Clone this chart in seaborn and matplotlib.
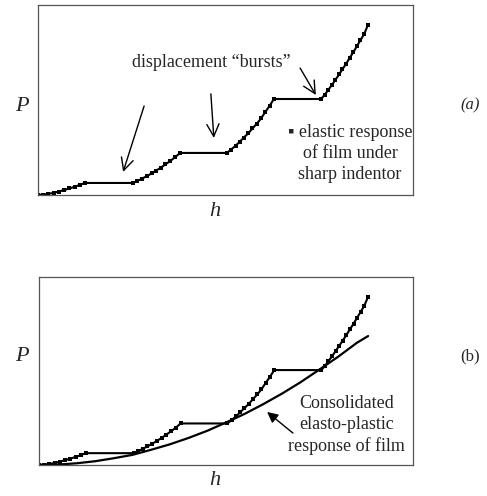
import numpy as np
import pandas as pd
import matplotlib.pyplot as plt
import seaborn as sns

# elastic loading segments (h, P in arbitrary units, 0-100 box)
seg1_h = [0, 1.4, 2.8, 4.2, 5.6, 7.0, 8.4, 9.8, 11.2, 12.5]
seg1_p = [0, 0.2, 0.6, 1.1, 1.8, 2.6, 3.4, 4.3, 5.3, 6.3]
seg2_h = [25.3, 26.5, 27.8, 29.0, 30.3, 31.5, 32.8, 34.0, 35.3, 36.6, 37.9]
seg2_p = [6.3, 7.4, 8.6, 9.9, 11.3, 12.8, 14.4, 16.1, 17.9, 19.9, 22.1]
seg3_h = [50.4, 51.5, 52.7, 53.8, 54.9, 56.1, 57.2, 58.4, 59.5, 60.6, 61.8, 62.9]
seg3_p = [22.1, 23.9, 25.9, 28.0, 30.2, 32.5, 35.0, 37.6, 40.3, 43.6, 47.0, 50.5]
seg4_h = [75.5, 76.5, 77.4, 78.4, 79.3, 80.3, 81.2, 82.2, 83.1, 84.1, 85.0, 86.0, 87.0, 88.0]
seg4_p = [50.5, 52.8, 55.3, 57.9, 60.6, 63.4, 66.2, 69.1, 72.1, 75.1, 78.2, 81.4, 84.8, 89.5]

# consolidated elasto-plastic response
cons_h = [0, 5, 10, 15, 20, 25, 30, 35, 40, 45, 50, 55, 60, 65, 70, 75, 80, 85, 88]
cons_p = [0, 0.2, 0.9, 2.0, 3.6, 5.4, 8.1, 11.0, 14.4, 18.2, 22.6, 27.2, 32.4, 38.0, 44.1, 50.8, 57.6, 65.0, 68.6]

steps = pd.DataFrame({
    'h': seg1_h + seg2_h + seg3_h + seg4_h,
    'P': seg1_p + seg2_p + seg3_p + seg4_p,
})
cons = pd.DataFrame({'h': cons_h, 'P': cons_p})

sns.set_theme(style='white')
plt.rcParams['font.family'] = ['Liberation Serif', 'DejaVu Serif']

fig = plt.figure(figsize=(4.87, 4.96), dpi=100)
ax1 = fig.add_axes([0.078, 0.607, 0.770, 0.383])
ax2 = fig.add_axes([0.080, 0.0625, 0.768, 0.379])


def draw_steps(ax):
    sns.lineplot(data=steps, x='h', y='P', ax=ax, sort=False, estimator=None,
                 color='black', lw=1.5, marker='s', markersize=3.3,
                 markeredgewidth=0, markerfacecolor='black')
    ax.set_xlim(0, 100)
    ax.set_ylim(0, 100)
    ax.set_xticks([])
    ax.set_yticks([])
    ax.set_xlabel('')
    ax.set_ylabel('')
    for s in ax.spines.values():
        s.set_color('#555555')
        s.set_linewidth(0.9)


draw_steps(ax1)
draw_steps(ax2)
sns.lineplot(data=cons, x='h', y='P', ax=ax2, sort=False, estimator=None,
             color='black', lw=1.6)
ax2.set_xlabel('')
ax2.set_ylabel('')

fs = 13
# top panel annotations
ax1.text(46.1, 69.5, 'displacement \u201cbursts\u201d', ha='center', va='center', fontsize=fs)
for start, tip in [((28.3, 46.8), (22.7, 12.1)),
                   ((46.1, 53.2), (46.9, 30.0)),
                   ((69.9, 66.8), (74.1, 52.6))]:
    ax1.annotate('', xy=tip, xytext=start,
                 arrowprops=dict(arrowstyle='->', color='black', lw=1.0,
                                 mutation_scale=22, shrinkA=0, shrinkB=0))
ax1.text(83.2, 21.6, '\u25aa elastic response\nof film under\nsharp indentor',
         ha='center', va='center', multialignment='center', fontsize=fs, linespacing=1.3)

# bottom panel annotations
ax2.text(82.3, 21.3, 'Consolidated\nelasto-plastic\nresponse of film',
         ha='center', va='center', multialignment='center', fontsize=fs, linespacing=1.3)
ax2.annotate('', xy=(61.0, 28.2), xytext=(67.9, 17.0),
             arrowprops=dict(arrowstyle='-|>', color='black', lw=1.0,
                             mutation_scale=16, shrinkA=0, shrinkB=0))

# axis letters and panel labels
fig.text(0.045, 0.786, 'P', style='italic', fontsize=16, ha='center', va='center')
fig.text(0.441, 0.573, 'h', style='italic', fontsize=16, ha='center', va='center')
fig.text(0.965, 0.788, '(a)', style='italic', fontsize=12, ha='center', va='center')
fig.text(0.045, 0.282, 'P', style='italic', fontsize=16, ha='center', va='center')
fig.text(0.441, 0.032, 'h', style='italic', fontsize=16, ha='center', va='center')
fig.text(0.965, 0.282, '(b)', fontsize=12, ha='center', va='center')

fig.savefig('out.png', dpi=100, facecolor='white')
